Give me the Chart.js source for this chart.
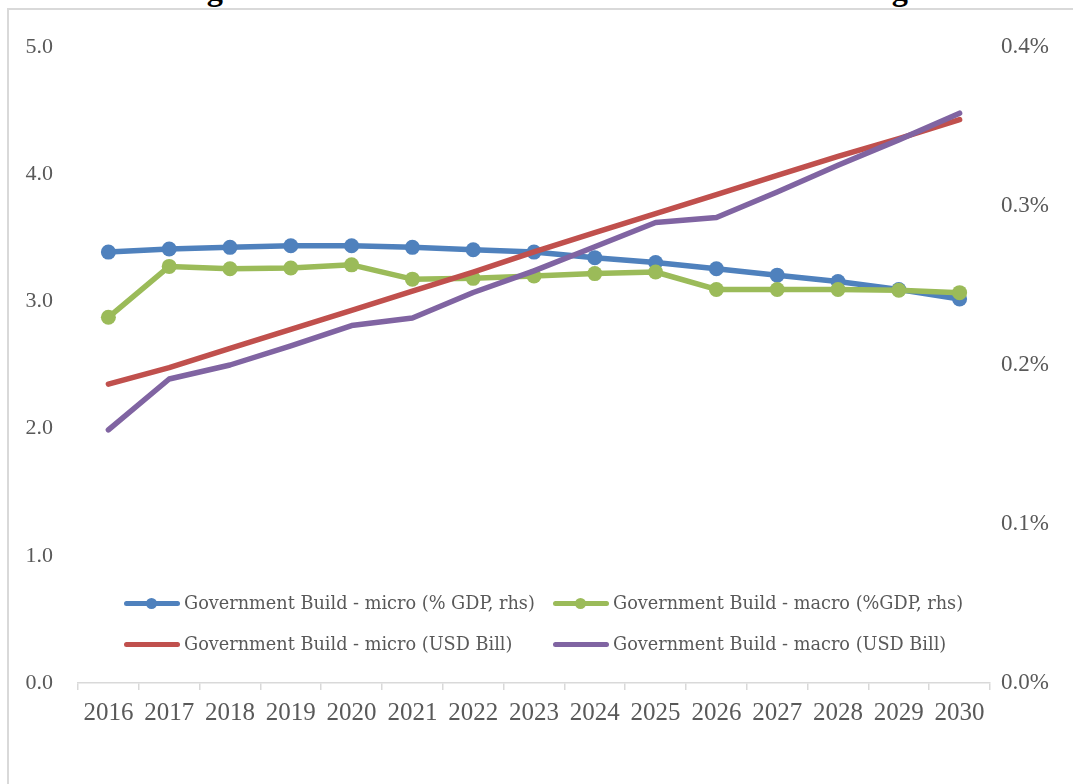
<!DOCTYPE html>
<html>
<head>
<meta charset="utf-8">
<script src="https://cdn.jsdelivr.net/npm/chart.js@4.4.1/dist/chart.umd.min.js"></script>
<style>
  html, body { margin: 0; padding: 0; background: #fff; overflow: hidden; }
  #wrap { position: relative; width: 1073px; height: 784px; overflow: hidden; }
  #frame { position: absolute; left: 7px; top: 8px; width: 1200px; height: 900px; border: 2px solid #d9d9d9; box-sizing: border-box; }
  #title { position: absolute; top: -29px; left: 0; width: 1086px; text-align: center; font: bold 32.3px "Liberation Serif", serif; line-height: 37px; color: #000; white-space: nowrap; }
  #chart { position: absolute; left: 0; top: 0; }
  #warm { position: absolute; left: 0; top: 0; font: 22px "Liberation Serif", serif; opacity: 0; }
  .legend { position: absolute; font: 17.7px "DejaVu Serif", serif; color: #595959; display: flex; align-items: center; white-space: nowrap; }
  .legend .swatch { position: relative; width: 56px; height: 5px; margin-right: 4px; }
  .legend .dot { position: absolute; left: 22px; top: -3px; width: 11px; height: 11px; border-radius: 50%; }
</style>
</head>
<body>
<div id="wrap">
  <span id="warm">0.0 2016</span>
  <div id="title">Figure 5: Total Investments on Government Building</div>
  <div id="frame"></div>
  <canvas id="chart" width="1073" height="784"></canvas>
  <div id="legend"></div>
</div>
<script>
const years = ['2016','2017','2018','2019','2020','2021','2022','2023','2024','2025','2026','2027','2028','2029','2030']

// % of GDP, right axis
const microGdp = [0.271, 0.273, 0.274, 0.275, 0.275, 0.274, 0.2725, 0.271, 0.2675, 0.2645, 0.2605, 0.2565, 0.2525, 0.2475, 0.2415]
const macroGdp = [0.230, 0.262, 0.2605, 0.261, 0.263, 0.254, 0.2545, 0.256, 0.2575, 0.2585, 0.2475, 0.2475, 0.2475, 0.247, 0.2455]

// USD billions, left axis
const microUsd = [2.35, 2.48, 2.63, 2.78, 2.93, 3.08, 3.23, 3.39, 3.54, 3.69, 3.84, 3.99, 4.14, 4.28, 4.43]
const macroUsd = [1.99, 2.39, 2.50, 2.65, 2.81, 2.87, 3.07, 3.24, 3.43, 3.62, 3.66, 3.86, 4.07, 4.27, 4.48]

const leftTicks = [0, 1, 2, 3, 4, 5]
const rightTicks = [0, 0.1, 0.2, 0.3, 0.4]

const BLUE = '#4f81bd', GREEN = '#9bbb59', RED = '#c0504d', PURPLE = '#8064a2'

const series = [
  { label: 'Government Build - micro (% GDP, rhs)', data: microGdp, color: BLUE, axis: 'yR', dots: true },
  { label: 'Government Build - macro (%GDP, rhs)', data: macroGdp, color: GREEN, axis: 'yR', dots: true },
  { label: 'Government Build - micro (USD Bill)', data: microUsd, color: RED, axis: 'yL', dots: false },
  { label: 'Government Build - macro (USD Bill)', data: macroUsd, color: PURPLE, axis: 'yL', dots: false }
]

const SERIF = 'Liberation Serif'
const tickFont = { family: SERIF, size: 22 }

function draw() {
  new Chart(document.getElementById('chart'), {
    type: 'line',
    data: {
      labels: years,
      datasets: series.map(s => ({
        label: s.label,
        data: s.data,
        yAxisID: s.axis,
        borderColor: s.color,
        backgroundColor: s.color,
        borderWidth: 5.5,
        pointRadius: s.dots ? 7.5 : 0,
        pointBorderWidth: 0,
        pointHoverRadius: 0,
        tension: 0,
        borderCapStyle: 'round',
        borderJoinStyle: 'round'
      })).reverse()
    },
    options: {
      responsive: false,
      animation: false,
      events: [],
      layout: { padding: { top: 47, left: 0, right: 0, bottom: 0 } },
      plugins: { legend: { display: false }, tooltip: { enabled: false } },
      scales: {
        x: {
          offset: true,
          grid: { offset: true, drawOnChartArea: false, color: '#d9d9d9', tickLength: 7, lineWidth: 1.5 },
          border: { color: '#d9d9d9', width: 1.5 },
          ticks: { color: '#595959', font: { family: SERIF, size: 25 }, padding: 8, maxRotation: 0, autoSkip: false },
          afterFit: s => { s.height = 101 }
        },
        yL: {
          position: 'left',
          min: 0, max: 5,
          afterBuildTicks: s => { s.ticks = leftTicks.map(v => ({ value: v })) },
          grid: { display: false },
          border: { display: false },
          ticks: { color: '#595959', font: tickFont, padding: 17, callback: v => v.toFixed(1) },
          afterFit: s => { s.width = 78 }
        },
        yR: {
          position: 'right',
          min: 0, max: 0.4,
          afterBuildTicks: s => { s.ticks = rightTicks.map(v => ({ value: v })) },
          grid: { display: false },
          border: { display: false },
          ticks: { color: '#595959', font: { family: SERIF, size: 23 }, padding: 3, callback: v => v.toFixed(1) + '%' },
          afterFit: s => { s.width = 83 }
        }
      }
    }
  })
}

// legend sits inside the plot, two rows of two
const legendPos = [[124, 604], [553, 604], [124, 645], [553, 645]]
const legend = document.getElementById('legend')
series.forEach((s, i) => {
  const el = document.createElement('div')
  el.className = 'legend'
  el.style.left = legendPos[i][0] + 'px'
  el.style.top = (legendPos[i][1] - 11) + 'px'
  el.innerHTML = `<span class="swatch" style="background:${s.color};border-radius:3px">` +
    (s.dots ? `<span class="dot" style="background:${s.color}"></span>` : '') +
    `</span><span>${s.label}</span>`
  legend.appendChild(el)
})

document.fonts.ready.then(() => setTimeout(draw, 30))
</script>
</body>
</html>
